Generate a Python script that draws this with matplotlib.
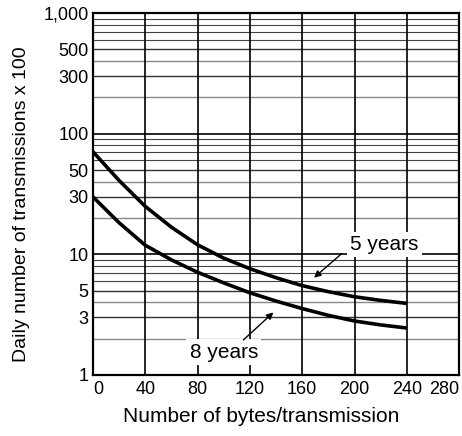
#!/usr/bin/env python3
"""Daily transmissions vs bytes per transmission, log chart."""

import matplotlib

matplotlib.use("Agg")
import matplotlib.pyplot as plt
from matplotlib.ticker import NullLocator

plt.rcParams["font.family"] = ["Liberation Sans", "DejaVu Sans"]

# data
bytes_per_tx = [0, 20, 40, 60, 80, 100, 120, 140, 160, 180, 200, 220, 240]
five_years = [71, 41, 25, 16.8, 12, 9.3, 7.6, 6.4, 5.5, 4.9, 4.45, 4.15, 3.92]
eight_years = [30, 18.3, 11.9, 9.0, 7.1, 5.8, 4.8, 4.1, 3.55, 3.12, 2.8, 2.6, 2.45]

x_ticks = [0, 40, 80, 120, 160, 200, 240, 280]
y_ticks = [1, 3, 5, 10, 30, 50, 100, 300, 500, 1000]
y_tick_labels = ["1", "3", "5", "10", "30", "50", "100", "300", "500", "1,000"]

fig = plt.figure(figsize=(4.62, 4.36), dpi=100)
ax = fig.add_axes([0.201, 0.140, 0.793, 0.830])
ax.set_yscale("log")
ax.set_xlim(0, 280)
ax.set_ylim(1, 1000)

# log grid: a line at every integer multiple within each decade
for decade in (1, 10, 100):
    for m in range(1, 10):
        v = decade * m
        if m == 1:
            ax.axhline(v, color="black", lw=1.2, zorder=1)
        elif m in (3, 5):
            ax.axhline(v, color="#333333", lw=1.0, zorder=1)
        elif m in (2, 4):
            ax.axhline(v, color="#888888", lw=1.0, zorder=1)
        else:
            ax.axhline(v, color="#444444", lw=0.8, zorder=1)
for xv in x_ticks[1:-1]:
    ax.axvline(xv, color="black", lw=1.2, zorder=1)

ax.plot(bytes_per_tx, five_years, color="black", lw=2.6, zorder=3,
        solid_joinstyle="round", solid_capstyle="butt")
ax.plot(bytes_per_tx, eight_years, color="black", lw=2.6, zorder=3,
        solid_joinstyle="round", solid_capstyle="butt")

ax.set_xticks(x_ticks)
ax.set_xticklabels([str(v) for v in x_ticks], fontsize=13)
ax.get_xticklabels()[0].set_ha("left")
ax.get_xticklabels()[-1].set_ha("right")
ax.set_yticks(y_ticks)
ax.set_yticklabels(y_tick_labels, fontsize=13)
ax.yaxis.set_minor_locator(NullLocator())
ax.tick_params(axis="y", length=0, pad=3)
ax.tick_params(axis="x", length=0, pad=4)

for side in ax.spines.values():
    side.set_linewidth(1.6)
    side.set_zorder(4)

bbox = dict(boxstyle="square,pad=0.15", fc="white", ec="none")
arrow = dict(arrowstyle="-|>", color="black", lw=1.0, mutation_scale=10, shrinkA=0, shrinkB=0)
ax.annotate("5 years", xy=(169, 6.4), xytext=(223, 12.1), fontsize=15,
            ha="center", va="center", bbox=bbox, zorder=5)
ax.annotate("", xy=(169, 6.4), xytext=(190, 10.1), arrowprops=arrow, zorder=5)
ax.annotate("8 years", xy=(138, 3.3), xytext=(100, 1.55), fontsize=15,
            ha="center", va="center", bbox=bbox, zorder=5)
ax.annotate("", xy=(138, 3.3), xytext=(115, 1.95), arrowprops=arrow, zorder=5)

ax.set_xlabel("Number of bytes/transmission", fontsize=15)
ax.set_ylabel("Daily number of transmissions x 100", fontsize=14)
ax.xaxis.set_label_coords(0.459, -0.088)
ax.yaxis.set_label_coords(-0.172, 0.472)

fig.savefig("out.png", dpi=100)
